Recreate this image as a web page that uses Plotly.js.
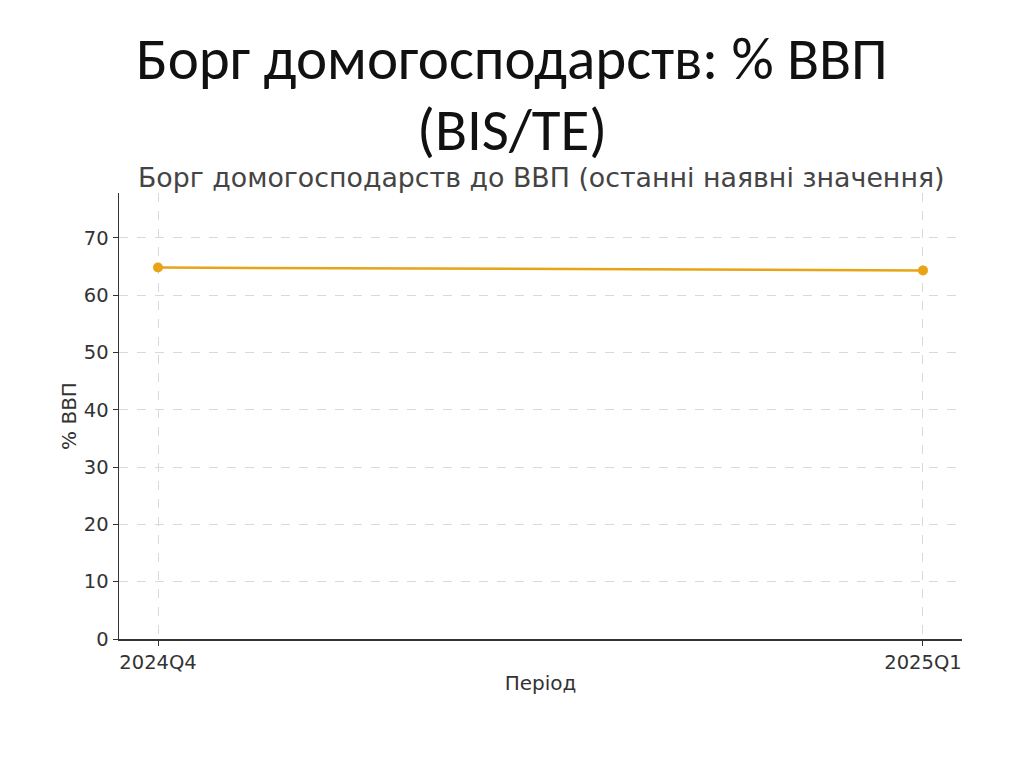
<!DOCTYPE html>
<html>
<head>
<meta charset="utf-8">
<script src="https://cdn.plot.ly/plotly-3.0.1.min.js"></script>
<style>html,body{margin:0;padding:0;background:#fff;}#chart{width:1024px;height:767px;}</style>
</head>
<body>
<div id="chart"></div>
<script>
const periods = ["2024Q4", "2025Q1"];
const debtPctGdp = [64.8, 64.3];
const slideTitleLine1 = "Борг домогосподарств: % ВВП";
const slideTitleLine2 = "(BIS/TE)";
const chartTitle = "Борг домогосподарств до ВВП (останні наявні значення)";
const xTitle = "Період";
const yTitle = "% ВВП";
const yTicks = [0, 10, 20, 30, 40, 50, 60, 70];

const trace = {
  x: [0, 1],
  y: debtPctGdp,
  type: "scatter",
  mode: "lines+markers",
  line: {color: "#e8a317", width: 2.5},
  marker: {color: "#e8a317", size: 10},
  hoverinfo: "none"
};

const tickFont = {family: "DejaVu Sans, sans-serif", size: 19.5, color: "#333"};
const titleFont = {family: "DejaVu Sans, sans-serif", size: 20, color: "#333"};
const slideFont = {family: "Carlito, Lato, 'Liberation Sans Narrow', sans-serif", size: 59, color: "#111"};

const layout = {
  width: 1024, height: 767,
  margin: {l: 119, r: 62, t: 193, b: 128},
  paper_bgcolor: "#fff", plot_bgcolor: "#fff",
  showlegend: false,
  xaxis: {
    range: [-0.051, 1.051],
    tickmode: "array", tickvals: [0, 1], ticktext: periods,
    showgrid: true, gridcolor: "#d9d9d9", griddash: "dash", gridwidth: 1,
    showline: true, linecolor: "#333", linewidth: 1.5,
    ticks: "outside", ticklen: 5, tickcolor: "#333",
    tickfont: tickFont, zeroline: false,
    title: {text: xTitle, font: titleFont, standoff: 3}
  },
  yaxis: {
    range: [0, 77.8],
    tickmode: "array", tickvals: yTicks,
    showgrid: true, gridcolor: "#d9d9d9", griddash: "dash", gridwidth: 1,
    showline: true, linecolor: "#333", linewidth: 1.5,
    ticks: "outside", ticklen: 5, tickcolor: "#333",
    tickfont: tickFont, zeroline: false,
    title: {text: yTitle, font: titleFont, standoff: 2}
  },
  title: {
    text: chartTitle,
    font: {family: "DejaVu Sans, sans-serif", size: 26.8, color: "#444"},
    x: 0.5285, xanchor: "center", y: 0.768, yanchor: "middle"
  },
  annotations: [
    {
      text: slideTitleLine1, xref: "paper", yref: "paper",
      x: 0.466, y: 1 + (193 - 59) / 446, xanchor: "center", yanchor: "middle",
      showarrow: false, font: slideFont
    },
    {
      text: slideTitleLine2, xref: "paper", yref: "paper",
      x: 0.466, y: 1 + (193 - 130) / 446, xanchor: "center", yanchor: "middle",
      showarrow: false, font: slideFont
    }
  ]
};

Plotly.newPlot("chart", [trace], layout, {displayModeBar: false, staticPlot: true});
</script>
</body>
</html>
